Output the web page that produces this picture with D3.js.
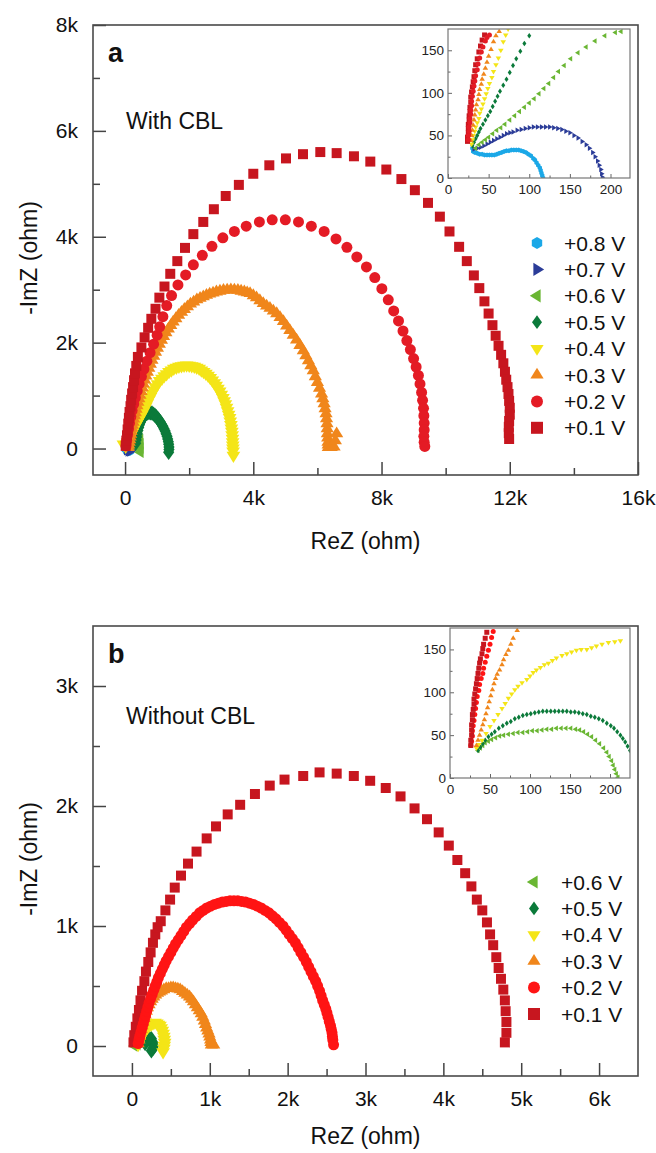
<!DOCTYPE html>
<html lang="en">
<head>
<meta charset="utf-8">
<title>Nyquist plots, with and without CBL</title>
<script src="https://cdn.jsdelivr.net/npm/d3@7"></script>
<style>
body{margin:0;background:#fff;}
svg{display:block;font-family:"Liberation Sans",Arial,sans-serif;}
</style>
</head>
<body>
<div id="chart"></div>
<script>
// ---- data: main plots in kOhm, insets in Ohm, points as [ReZ, -ImZ] ----
var labelsA = ["+0.8 V","+0.7 V","+0.6 V","+0.5 V","+0.4 V","+0.3 V","+0.2 V","+0.1 V"];
var labelsB = ["+0.6 V","+0.5 V","+0.4 V","+0.3 V","+0.2 V","+0.1 V"];

// panel a, main (kOhm)
var a08 = [[0.02,-0.02],[0.06,-0.05],[0.11,-0.06],[0.16,-0.05]];
var a07 = [[0.05,-0.04],[0.10,-0.06],[0.15,-0.06],[0.20,-0.04]];
var a06 = [[0.30,0.05],[0.38,0.15],[0.44,0.24],[0.47,0.17],[0.48,0.09],[0.48,0.01],[0.48,-0.07]];
var a05 = [[0.33,0.10],[0.345,0.16],[0.36,0.22],[0.38,0.28],[0.40,0.34],[0.425,0.395],[0.45,0.45],[0.48,0.495],[0.51,0.54],[0.545,0.575],[0.58,0.61],[0.62,0.635],[0.66,0.66],[0.705,0.67],[0.75,0.68],[0.795,0.675],[0.84,0.67],[0.885,0.65],[0.93,0.63],[0.975,0.60],[1.02,0.57],[1.06,0.535],[1.10,0.50],[1.14,0.46],[1.18,0.42],[1.215,0.375],[1.25,0.33],[1.28,0.28],[1.31,0.23],[1.33,0.18],[1.35,0.13],[1.36,0.08],[1.37,0.03],[1.37,-0.02],[1.36,-0.07]];
var a04 = [[-0.05,0.08],[0.02,0.04],[0.05,0.08],[0.08,0.12],[0.115,0.165],[0.15,0.21],[0.185,0.255],[0.22,0.30],[0.26,0.35],[0.30,0.40],[0.34,0.445],[0.38,0.49],[0.425,0.54],[0.47,0.59],[0.515,0.64],[0.56,0.69],[0.605,0.745],[0.65,0.80],[0.695,0.86],[0.74,0.92],[0.79,0.98],[0.84,1.04],[0.895,1.10],[0.95,1.16],[1.015,1.22],[1.08,1.28],[1.15,1.325],[1.22,1.37],[1.295,1.41],[1.37,1.45],[1.445,1.48],[1.52,1.51],[1.60,1.53],[1.68,1.55],[1.76,1.56],[1.84,1.57],[1.92,1.575],[2.00,1.57],[2.08,1.56],[2.16,1.55],[2.235,1.53],[2.31,1.51],[2.38,1.48],[2.45,1.45],[2.52,1.415],[2.59,1.38],[2.655,1.335],[2.72,1.29],[2.78,1.24],[2.84,1.19],[2.895,1.135],[2.95,1.08],[3.00,1.02],[3.05,0.96],[3.09,0.90],[3.13,0.84],[3.165,0.775],[3.20,0.71],[3.23,0.645],[3.26,0.58],[3.28,0.515],[3.30,0.45],[3.315,0.385],[3.33,0.32],[3.34,0.255],[3.35,0.19],[3.355,0.125],[3.36,0.06],[3.365,0.005],[3.37,-0.05],[3.38,-0.13]];
var a03 = [[0.10,0.02],[0.115,0.07],[0.13,0.12],[0.145,0.17],[0.16,0.22],[0.175,0.27],[0.19,0.33],[0.21,0.385],[0.23,0.44],[0.25,0.50],[0.27,0.56],[0.295,0.62],[0.32,0.68],[0.345,0.745],[0.37,0.81],[0.40,0.875],[0.43,0.94],[0.465,1.01],[0.50,1.08],[0.535,1.15],[0.57,1.22],[0.61,1.295],[0.65,1.37],[0.695,1.445],[0.74,1.52],[0.79,1.595],[0.84,1.67],[0.895,1.745],[0.95,1.82],[1.01,1.895],[1.07,1.97],[1.135,2.045],[1.20,2.12],[1.275,2.19],[1.35,2.26],[1.425,2.325],[1.50,2.39],[1.585,2.455],[1.67,2.52],[1.76,2.575],[1.85,2.63],[1.945,2.68],[2.04,2.73],[2.14,2.77],[2.24,2.81],[2.34,2.84],[2.44,2.87],[2.54,2.895],[2.64,2.92],[2.745,2.94],[2.85,2.96],[2.96,2.975],[3.07,2.99],[3.185,2.995],[3.30,3.00],[3.41,2.995],[3.52,2.99],[3.62,2.975],[3.72,2.96],[3.81,2.945],[3.90,2.93],[4.00,2.89],[4.10,2.85],[4.205,2.795],[4.31,2.74],[4.415,2.695],[4.52,2.65],[4.625,2.60],[4.73,2.55],[4.835,2.475],[4.94,2.40],[5.04,2.315],[5.14,2.23],[5.245,2.14],[5.35,2.05],[5.455,1.95],[5.56,1.85],[5.64,1.755],[5.72,1.66],[5.795,1.565],[5.87,1.47],[5.935,1.36],[6.00,1.25],[6.065,1.14],[6.13,1.03],[6.17,0.94],[6.21,0.85],[6.24,0.755],[6.27,0.66],[6.285,0.565],[6.30,0.47],[6.305,0.375],[6.31,0.28],[6.32,0.20],[6.33,0.12],[6.335,0.07],[6.34,0.02],[6.43,0.02],[6.52,0.03],[6.56,0.15],[6.60,0.28]];
var a02 = [[0.03,0.05],[0.05,0.15],[0.08,0.26],[0.11,0.37],[0.14,0.48],[0.18,0.60],[0.22,0.72],[0.27,0.84],[0.32,0.96],[0.38,1.09],[0.44,1.22],[0.51,1.36],[0.59,1.50],[0.68,1.65],[0.78,1.81],[0.89,1.97],[1.00,2.14],[1.08,2.30],[1.18,2.49],[1.30,2.70],[1.45,2.89],[1.65,3.09],[1.89,3.28],[2.13,3.47],[2.41,3.65],[2.71,3.82],[3.05,3.98],[3.41,4.10],[3.78,4.20],[4.19,4.28],[4.59,4.32],[5.00,4.32],[5.41,4.28],[5.81,4.20],[6.21,4.10],[6.58,3.96],[6.92,3.80],[7.23,3.62],[7.53,3.43],[7.79,3.23],[8.01,3.02],[8.21,2.81],[8.38,2.60],[8.53,2.41],[8.67,2.22],[8.79,2.04],[8.90,1.87],[9.00,1.70],[9.08,1.54],[9.15,1.38],[9.20,1.22],[9.25,1.06],[9.28,0.91],[9.31,0.76],[9.32,0.62],[9.33,0.48],[9.33,0.35],[9.32,0.23],[9.33,0.12],[9.35,0.04]];
var a01 = [[0.02,0.05],[0.04,0.15],[0.06,0.25],[0.08,0.36],[0.10,0.47],[0.12,0.58],[0.14,0.69],[0.17,0.80],[0.19,0.92],[0.22,1.04],[0.25,1.16],[0.28,1.29],[0.31,1.42],[0.35,1.56],[0.40,1.73],[0.51,1.91],[0.61,2.10],[0.72,2.28],[0.82,2.45],[0.95,2.64],[1.07,2.85],[1.23,3.06],[1.41,3.30],[1.63,3.54],[1.87,3.79],[2.13,4.05],[2.44,4.28],[2.77,4.52],[3.14,4.77],[3.55,4.98],[4.00,5.19],[4.50,5.35],[5.02,5.48],[5.55,5.56],[6.09,5.60],[6.60,5.58],[7.14,5.52],[7.65,5.42],[8.15,5.27],[8.62,5.09],[9.04,4.88],[9.45,4.64],[9.82,4.38],[10.12,4.10],[10.42,3.81],[10.66,3.54],[10.88,3.27],[11.05,3.03],[11.21,2.78],[11.34,2.55],[11.46,2.33],[11.56,2.13],[11.65,1.94],[11.73,1.77],[11.80,1.61],[11.85,1.45],[11.89,1.30],[11.93,1.16],[11.96,1.03],[11.98,0.90],[12.00,0.77],[12.00,0.64],[11.98,0.52],[11.97,0.41],[11.97,0.29],[11.98,0.18]];

// panel a, inset (Ohm)
var ia08 = [[30,35],[31,31],[33,30],[36,29],[39,28],[42,28],[45,27],[48,27],[51,27],[54,27],[57,27],[60,28],[63,29],[66,30],[69,31],[72,32],[75,32],[78,33],[81,33],[84,33],[87,33],[90,32],[93,31],[96,30],[99,28],[102,26],[105,23],[107,21],[109,18],[111,15],[113,12],[114,9],[115,6],[116,3],[117,0]];
var ia07 = [[32,34],[36,35],[40,36],[44,38],[48,40],[52,42],[56,44],[60,46],[64,48],[68,50],[72,52],[76,53],[80,54],[85,56],[90,57],[95,58],[100,59],[105,60],[110,60],[115,60],[120,60],[125,60],[130,59],[135,58],[140,57],[145,55],[150,53],[155,50],[160,47],[165,43],[170,39],[174,35],[178,30],[181,25],[184,20],[186,15],[188,10],[189,5],[190,1]];
var ia06 = [[34,35],[38,39],[42,42],[46,45],[50,48],[55,52],[60,56],[65,59],[70,63],[76,68],[82,73],[88,78],[94,83],[100,88],[106,93],[112,99],[118,105],[124,111],[130,118],[136,125],[143,132],[151,140],[160,147],[170,154],[181,161],[193,167],[206,171],[213,172]];
var ia05 = [[30,38],[32,42],[34,46],[36,50],[38,54],[40,58],[43,63],[46,68],[49,73],[52,78],[55,84],[58,90],[61,96],[64,102],[68,109],[72,116],[76,124],[80,132],[84,140],[89,149],[94,158],[100,167]];
var ia04 = [[29,40],[30,45],[31,50],[33,55],[34,60],[36,65],[38,70],[39,76],[41,81],[43,87],[45,93],[47,99],[49,105],[51,111],[54,118],[56,125],[59,133],[62,141],[65,150],[68,160],[71,168],[74,175]];
var ia03 = [[28,44],[29,50],[30,56],[31,62],[32,68],[33,74],[34,80],[35,86],[37,92],[38,98],[39,104],[41,110],[42,116],[44,122],[46,129],[48,136],[50,143],[53,151],[56,160],[59,167],[63,172]];
var ia02 = [[25,45],[25,50],[26,55],[26,60],[27,65],[27,70],[28,75],[28,80],[29,85],[29,90],[30,96],[31,102],[32,108],[33,114],[34,120],[36,127],[37,134],[39,141],[41,148],[43,154],[46,161],[48,165],[51,168]];
var ia01 = [[24,43],[24,48],[25,53],[25,58],[25,63],[26,68],[26,73],[27,78],[27,83],[28,89],[28,95],[29,101],[30,107],[31,113],[32,119],[33,126],[34,133],[36,140],[38,148],[40,155],[42,162],[45,168]];

// panel b, main (kOhm)
var b06 = [[0.03,0.00],[0.05,0.01],[0.07,0.01]];
var b05 = [[0.17,0.02],[0.19,0.06],[0.22,0.07],[0.25,0.06],[0.27,0.03],[0.28,0.00],[0.27,-0.02],[0.25,-0.04]];
var b04 = [[0.08,0.01],[0.095,0.035],[0.11,0.06],[0.125,0.08],[0.14,0.10],[0.16,0.12],[0.18,0.14],[0.20,0.155],[0.22,0.17],[0.245,0.18],[0.27,0.19],[0.295,0.195],[0.32,0.19],[0.34,0.18],[0.36,0.17],[0.375,0.15],[0.39,0.13],[0.40,0.105],[0.41,0.08],[0.415,0.055],[0.42,0.03],[0.415,0.005],[0.41,-0.02],[0.40,-0.05]];
var b03 = [[0.08,0.02],[0.09,0.05],[0.10,0.08],[0.11,0.11],[0.12,0.14],[0.13,0.17],[0.14,0.20],[0.155,0.23],[0.17,0.26],[0.185,0.29],[0.20,0.32],[0.22,0.345],[0.24,0.37],[0.26,0.39],[0.28,0.41],[0.305,0.425],[0.33,0.44],[0.355,0.45],[0.38,0.46],[0.41,0.47],[0.44,0.48],[0.47,0.48],[0.50,0.485],[0.53,0.485],[0.56,0.48],[0.59,0.475],[0.62,0.47],[0.65,0.455],[0.68,0.44],[0.71,0.425],[0.74,0.41],[0.765,0.39],[0.79,0.37],[0.815,0.345],[0.84,0.32],[0.865,0.295],[0.89,0.27],[0.91,0.24],[0.93,0.21],[0.945,0.18],[0.96,0.15],[0.975,0.125],[0.99,0.10],[1.00,0.075],[1.01,0.05],[1.015,0.03],[1.02,0.01],[1.05,0.01]];
var b02 = [[0.08,0.02],[0.09,0.05],[0.10,0.08],[0.115,0.115],[0.13,0.15],[0.145,0.185],[0.16,0.22],[0.175,0.255],[0.19,0.29],[0.205,0.325],[0.22,0.36],[0.24,0.395],[0.26,0.43],[0.28,0.465],[0.30,0.50],[0.32,0.535],[0.34,0.57],[0.365,0.605],[0.39,0.64],[0.415,0.675],[0.44,0.71],[0.47,0.745],[0.50,0.78],[0.53,0.815],[0.56,0.85],[0.595,0.885],[0.63,0.92],[0.665,0.955],[0.70,0.99],[0.74,1.02],[0.78,1.05],[0.825,1.08],[0.87,1.11],[0.915,1.13],[0.96,1.15],[1.01,1.165],[1.06,1.18],[1.11,1.19],[1.16,1.20],[1.21,1.205],[1.26,1.21],[1.31,1.21],[1.36,1.21],[1.41,1.205],[1.46,1.20],[1.51,1.19],[1.56,1.18],[1.61,1.165],[1.66,1.15],[1.71,1.13],[1.76,1.11],[1.805,1.085],[1.85,1.06],[1.895,1.03],[1.94,1.00],[1.98,0.965],[2.02,0.93],[2.06,0.895],[2.10,0.86],[2.135,0.82],[2.17,0.78],[2.205,0.74],[2.24,0.70],[2.27,0.66],[2.30,0.62],[2.33,0.58],[2.36,0.54],[2.385,0.50],[2.41,0.46],[2.43,0.42],[2.45,0.38],[2.47,0.345],[2.49,0.31],[2.505,0.275],[2.52,0.24],[2.535,0.205],[2.55,0.17],[2.56,0.14],[2.57,0.11],[2.575,0.08],[2.58,0.05],[2.59,0.01]];
var b01 = [[0.02,0.03],[0.03,0.09],[0.05,0.16],[0.07,0.23],[0.09,0.30],[0.11,0.38],[0.13,0.46],[0.16,0.54],[0.18,0.62],[0.21,0.70],[0.24,0.78],[0.27,0.86],[0.30,0.93],[0.33,0.99],[0.37,1.04],[0.43,1.13],[0.49,1.22],[0.55,1.32],[0.63,1.42],[0.72,1.52],[0.83,1.62],[0.96,1.73],[1.08,1.83],[1.23,1.93],[1.39,2.01],[1.58,2.10],[1.77,2.17],[1.96,2.22],[2.20,2.25],[2.41,2.28],[2.63,2.27],[2.85,2.25],[3.06,2.21],[3.26,2.15],[3.45,2.08],[3.63,1.98],[3.79,1.89],[3.94,1.78],[4.07,1.67],[4.18,1.55],[4.28,1.44],[4.36,1.33],[4.43,1.22],[4.50,1.13],[4.56,1.03],[4.60,0.93],[4.64,0.84],[4.68,0.74],[4.71,0.65],[4.74,0.56],[4.77,0.47],[4.79,0.38],[4.80,0.29],[4.81,0.20],[4.81,0.11],[4.79,0.03]];

// panel b, inset (Ohm)
var ib06 = [[35,32],[38,35],[41,38],[44,41],[48,43],[52,45],[57,47],[62,49],[67,50],[73,51],[79,52],[85,53],[91,53],[97,54],[103,55],[109,55],[115,56],[121,57],[127,57],[133,58],[139,58],[145,58],[151,58],[157,57],[162,56],[167,54],[172,51],[177,48],[182,44],[187,40],[192,35],[196,30],[199,25],[202,20],[204,15],[206,10],[208,5],[210,1]];
var ib05 = [[35,32],[38,36],[41,40],[44,44],[48,48],[52,51],[56,54],[61,58],[66,61],[71,64],[76,66],[81,69],[86,71],[91,73],[96,74],[101,75],[106,76],[111,77],[116,78],[121,78],[126,78],[131,78],[136,78],[141,78],[146,78],[151,77],[156,77],[161,76],[166,75],[171,74],[176,72],[181,71],[186,69],[191,67],[196,64],[201,61],[205,58],[209,54],[213,50],[216,46],[219,42],[222,37],[225,32],[228,27]];
var ib04 = [[33,35],[36,39],[40,44],[45,52],[50,60],[55,67],[60,74],[65,81],[69,87],[73,93],[77,98],[81,103],[85,107],[90,111],[96,115],[100,119],[104,123],[108,126],[113,129],[118,132],[123,134],[128,137],[133,140],[140,143],[146,145],[152,147],[158,149],[164,150],[171,150],[177,152],[183,154],[190,156],[198,158],[206,159],[213,160]];
var ib03 = [[33,38],[35,44],[37,50],[39,56],[41,62],[43,68],[45,75],[47,82],[49,89],[51,96],[53,103],[55,110],[57,116],[59,121],[62,126],[65,132],[67,138],[70,144],[73,149],[76,156],[79,163],[84,172]];
var ib02 = [[26,38],[27,43],[28,49],[28,55],[29,61],[30,67],[31,74],[32,81],[33,88],[34,95],[36,102],[37,109],[39,116],[41,122],[42,128],[44,135],[46,142],[48,149],[50,156],[52,164],[54,171]];
var ib01 = [[26,38],[26,44],[27,50],[27,56],[27,62],[28,68],[28,74],[29,80],[30,86],[30,92],[31,98],[32,104],[33,110],[34,116],[35,122],[36,128],[37,134],[38,139],[40,145],[41,151],[42,156],[44,163],[46,170]];

// axis ticks
var xTicksA = [0,4,8,12,16], xMinorA = [2,6,10,14];
var yTicksA = [0,2,4,6,8], yMinorA = [1,3,5,7];
var xTicksB = [0,1,2,3,4,5,6], xMinorB = [0.5,1.5,2.5,3.5,4.5,5.5];
var yTicksB = [0,1,2,3], yMinorB = [0.5,1.5,2.5];
var xTicksIn = [0,50,100,150,200], xMinorIn = [25,75,125,175];
var yTicksIn = [0,50,100,150], yMinorIn = [25,75,125];

// ---- styles ----
var colors = {"+0.8 V":"#1ba8e7","+0.7 V":"#2b3c98","+0.6 V":"#6ab633","+0.5 V":"#0b7a3a",
              "+0.4 V":"#f4e517","+0.3 V":"#f0861b","+0.2 V":"#e41b25","+0.1 V":"#c7161f"};
var shapes = {"+0.8 V":"hex","+0.7 V":"right","+0.6 V":"left","+0.5 V":"diamond",
              "+0.4 V":"down","+0.3 V":"up","+0.2 V":"circle","+0.1 V":"square"};
// marker size in the main plots
var msize = {"+0.8 V":9,"+0.7 V":9,"+0.6 V":10.5,"+0.5 V":14,"+0.4 V":12.5,"+0.3 V":12,"+0.2 V":11,"+0.1 V":10};

function shapePath(type, s){
  var r = s/2;
  if(type=="square") return "M"+(-r)+","+(-r)+"h"+s+"v"+s+"h"+(-s)+"Z";
  if(type=="circle") return d3.symbol(d3.symbolCircle, Math.PI*r*r)();
  if(type=="diamond") return "M0,"+(-r*1.1)+"L"+(r*0.8)+",0L0,"+(r*1.1)+"L"+(-r*0.8)+",0Z";
  if(type=="hex"){
    var p = d3.range(6).map(function(i){var a=Math.PI/3*i+Math.PI/6;return [r*Math.cos(a),r*Math.sin(a)];});
    return "M"+p.join("L")+"Z";
  }
  var h = s*0.9;
  return "M0,"+(-2*h/3)+"L"+(s*0.55)+","+(h/3)+"L"+(-s*0.55)+","+(h/3)+"Z";
}
var rotation = {up:0, down:180, right:90, left:-90};

var W = 656, H = 1153;
var svg = d3.select("#chart").append("svg").attr("width", W).attr("height", H);

var fmtK = function(d){ return d === 0 ? "0" : d + "k"; };

function axes(g, x, y, o){
  var gx = g.append("g").attr("transform","translate(0,"+o.bottom+")");
  gx.call(d3.axisBottom(x).tickValues(o.xTicks).tickFormat(o.fmt).tickSize(-o.major).tickPadding(o.padX));
  gx.append("g").call(d3.axisBottom(x).tickValues(o.xMinor).tickFormat("").tickSize(-o.minor));
  var gy = g.append("g").attr("transform","translate("+o.left+",0)");
  gy.call(d3.axisLeft(y).tickValues(o.yTicks).tickFormat(o.fmt).tickSize(-o.major).tickPadding(o.padY));
  gy.append("g").call(d3.axisLeft(y).tickValues(o.yMinor).tickFormat("").tickSize(-o.minor));
  g.selectAll(".domain").remove();
  g.selectAll(".tick line").attr("stroke", o.stroke).attr("stroke-width", o.width);
  g.selectAll(".tick text").attr("fill","#111").style("font-size", o.font+"px").style("font-family","Liberation Sans, Arial, sans-serif");
}

function plotSeries(g, x, y, pts, label, color, size){
  var rot = rotation[shapes[label]] || 0;
  g.append("g").selectAll("path").data(pts).enter().append("path")
    .attr("d", shapePath(shapes[label], size))
    .attr("fill", color)
    .attr("transform", function(d){ return "translate("+x(d[0])+","+y(d[1])+") rotate("+rot+")"; });
}

function panel(p){
  var g = svg.append("g");
  var x = d3.scaleLinear().domain(p.xDomain).range([p.left, p.right]);
  var y = d3.scaleLinear().domain(p.yDomain).range([p.bottom, p.top]);

  axes(g, x, y, {bottom:p.bottom, left:p.left, xTicks:p.xTicks, xMinor:p.xMinor, yTicks:p.yTicks, yMinor:p.yMinor,
                 fmt:fmtK, major:13, minor:7, padX:15, padY:15, stroke:"#444", width:1.5, font:21});

  p.series.forEach(function(s){ plotSeries(g, x, y, s.pts, s.label, s.color || colors[s.label], msize[s.label]); });

  g.append("rect").attr("x",p.left).attr("y",p.top).attr("width",p.right-p.left).attr("height",p.bottom-p.top)
    .attr("fill","none").attr("stroke","#4a4a4a").attr("stroke-width",1.6);

  // inset
  var q = p.inset;
  var gi = g.append("g");
  gi.append("rect").attr("x",q.left).attr("y",q.top).attr("width",q.right-q.left).attr("height",q.bottom-q.top).attr("fill","#fff");
  var xi = d3.scaleLinear().domain([0, q.xMax]).range([q.left, q.right]);
  var yi = d3.scaleLinear().domain([0, q.yMax]).range([q.bottom, q.top]);
  axes(gi, xi, yi, {bottom:q.bottom, left:q.left, xTicks:xTicksIn, xMinor:xMinorIn, yTicks:yTicksIn, yMinor:yMinorIn,
                    fmt:function(d){return d;}, major:4, minor:2.5, padX:6, padY:4, stroke:"#666", width:1, font:13.5});
  gi.selectAll(".tick text").attr("fill","#222");
  var clipId = "clip" + p.name;
  gi.append("clipPath").attr("id", clipId).append("rect")
    .attr("x",q.left).attr("y",q.top).attr("width",q.right-q.left).attr("height",q.bottom-q.top);
  var gm = gi.append("g").attr("clip-path","url(#"+clipId+")");
  q.series.forEach(function(s){ plotSeries(gm, xi, yi, s.pts, s.label, s.color || colors[s.label], 5); });
  gi.append("rect").attr("x",q.left).attr("y",q.top).attr("width",q.right-q.left).attr("height",q.bottom-q.top)
    .attr("fill","none").attr("stroke","#777").attr("stroke-width",1.2);

  // legend
  var lg = g.append("g");
  p.labels.forEach(function(l, i){
    var ly = p.legendY + i*26.4;
    var rot = rotation[shapes[l]] || 0;
    lg.append("path").attr("d", shapePath(shapes[l], shapes[l]=="diamond" ? 12.5 : 12))
      .attr("fill", (p.legendColor && p.legendColor[l]) || colors[l])
      .attr("transform","translate("+p.legendX+","+ly+") rotate("+rot+")");
    lg.append("text").attr("x", p.legendX+27).attr("y", ly).attr("dy","0.36em")
      .style("font-size","21px").attr("fill","#111").text(l);
  });

  // labels
  g.append("text").attr("x",108).attr("y",p.top+37).style("font-size","27px").style("font-weight","bold").attr("fill","#111").text(p.name);
  g.append("text").attr("x",126).attr("y",p.noteY).style("font-size","23px").attr("fill","#111").text(p.note);
  g.append("text").attr("x",(p.left+p.right)/2).attr("y",p.bottom+p.titleGap).attr("text-anchor","middle")
    .style("font-size","23px").attr("fill","#111").text("ReZ (ohm)");
  g.append("text").attr("transform","translate(37,"+((p.top+p.bottom)/2+8)+") rotate(-90)").attr("text-anchor","middle")
    .style("font-size","23px").attr("fill","#111").text("-ImZ (ohm)");
}

panel({
  name:"a", note:"With CBL", noteY:129, titleGap:74,
  left:93, right:638, top:25, bottom:475,
  xDomain:[-1,16], yDomain:[-0.5,8],
  xTicks:xTicksA, xMinor:xMinorA, yTicks:yTicksA, yMinor:yMinorA,
  labels:labelsA, legendX:537, legendY:243,
  series:[{label:"+0.8 V",pts:a08},{label:"+0.7 V",pts:a07},{label:"+0.6 V",pts:a06},{label:"+0.5 V",pts:a05},
          {label:"+0.4 V",pts:a04},{label:"+0.3 V",pts:a03},{label:"+0.2 V",pts:a02},{label:"+0.1 V",pts:a01}],
  inset:{left:448, right:630, top:29, bottom:178, xMax:224, yMax:175,
    series:[{label:"+0.8 V",pts:ia08},{label:"+0.7 V",pts:ia07},{label:"+0.6 V",pts:ia06},{label:"+0.5 V",pts:ia05},
            {label:"+0.4 V",pts:ia04},{label:"+0.3 V",pts:ia03},{label:"+0.1 V",pts:ia01},{label:"+0.2 V",pts:ia02}]}
});

panel({
  name:"b", note:"Without CBL", noteY:724, titleGap:68,
  left:93, right:638, top:626, bottom:1076,
  xDomain:[-0.5,6.5], yDomain:[-0.25,3.5],
  xTicks:xTicksB, xMinor:xMinorB, yTicks:yTicksB, yMinor:yMinorB,
  labels:labelsB, legendX:534, legendY:882, legendColor:{"+0.2 V":"#ff1414"},
  series:[{label:"+0.6 V",pts:b06},{label:"+0.5 V",pts:b05},{label:"+0.4 V",pts:b04},{label:"+0.3 V",pts:b03},
          {label:"+0.1 V",pts:b01},{label:"+0.2 V",pts:b02,color:"#ff1414"}],
  inset:{left:450, right:630, top:628, bottom:778, xMax:225, yMax:175,
    series:[{label:"+0.6 V",pts:ib06},{label:"+0.5 V",pts:ib05},{label:"+0.4 V",pts:ib04},{label:"+0.3 V",pts:ib03},
            {label:"+0.2 V",pts:ib02,color:"#ff1414"},{label:"+0.1 V",pts:ib01}]}
});
</script>
</body>
</html>
